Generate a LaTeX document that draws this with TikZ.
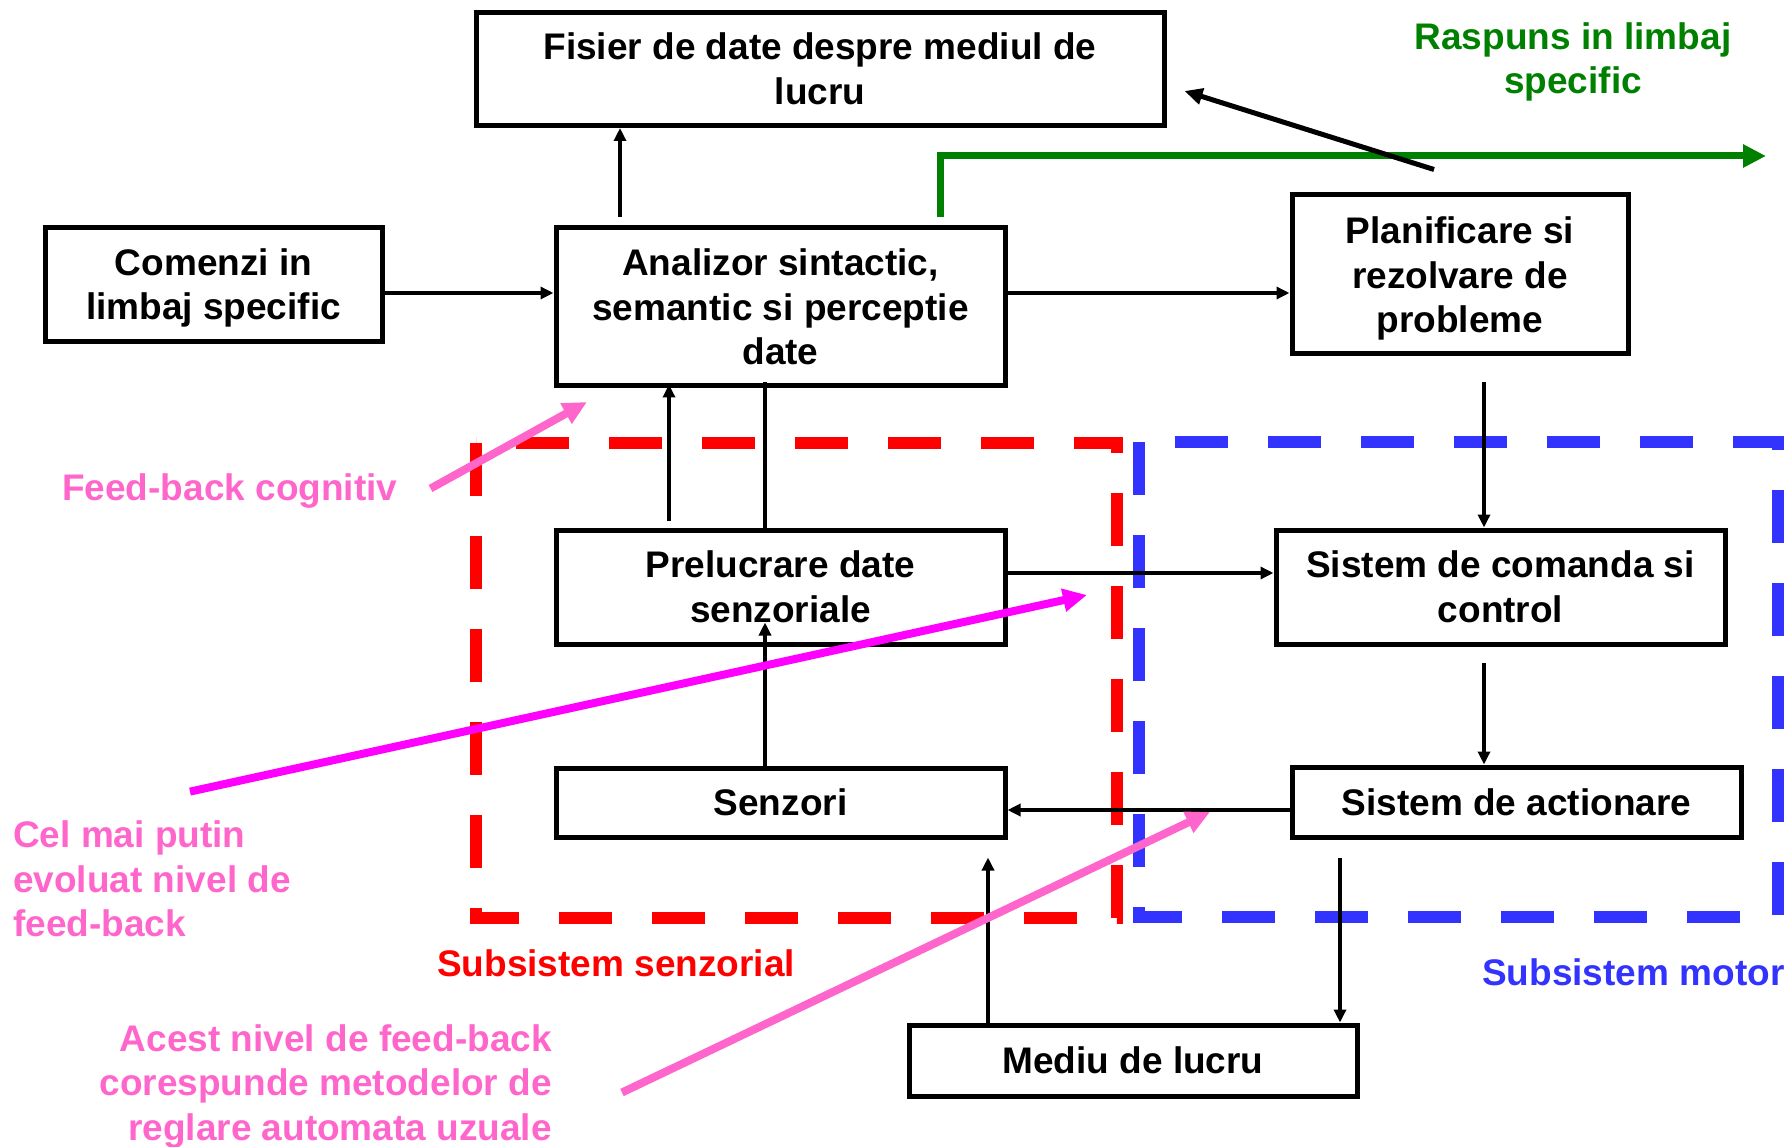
\documentclass[tikz,border=0pt]{standalone}
\usepackage{fontspec}
\setmainfont{Liberation Sans}
\usetikzlibrary{arrows.meta,calc}

\definecolor{fbpink}{RGB}{255,102,204}
\definecolor{fbmag}{RGB}{255,0,255}
\definecolor{ssred}{RGB}{255,0,0}
\definecolor{ssblue}{RGB}{51,51,255}
\definecolor{rgreen}{RGB}{0,128,0}

\tikzset{
  txt/.style={font=\bfseries\fontsize{37}{44.6}\selectfont},
  box/.style={txt, draw, line width=5pt, fill=white, inner sep=0pt, align=center},
  lbl/.style={txt, inner sep=0pt},
  conn/.style={line width=3.8pt, -{Triangle[length=13pt,width=12pt]}},
  plainline/.style={line width=3.8pt},
  zone/.style={line width=12pt, dash pattern=on 53pt off 40pt},
  note/.style={line width=8pt, -{Triangle[length=24pt,width=22pt]}},
}

\begin{document}
\begin{tikzpicture}[x=1pt,y=-1pt]
\useasboundingbox (0,0) rectangle (1791,1147);

% subsystem frames
\draw[zone, ssred]  (476,443) rectangle (1117,918);
\draw[zone, ssblue] (1139,442) rectangle (1778,917);

% blocks
\node[box, minimum width=688pt, minimum height=113pt] (fis) at (820,69)
  {Fisier de date despre mediul de\\lucru};
\node[box, minimum width=337pt, minimum height=114pt] (com) at (213.5,285)
  {\rule{0pt}{33pt}Comenzi in\\limbaj specific};
\node[box, minimum width=449pt, minimum height=158pt] (ana) at (780.5,307)
  {Analizor sintactic,\\semantic si perceptie\\date};
\node[box, minimum width=336pt, minimum height=159pt] (plan) at (1460,274.5)
  {\rule{0pt}{35pt}Planificare si\\rezolvare de\\probleme};
\node[box, minimum width=449pt, minimum height=114pt] (prel) at (780.5,587)
  {Prelucrare date\\senzoriale};
\node[box, minimum width=449pt, minimum height=114pt] (cmd) at (1500.5,587)
  {Sistem de comanda si\\control};
\node[box, minimum width=449pt, minimum height=69pt] (sen) at (780.5,802.5)
  {Senzori};
\node[box, minimum width=449pt, minimum height=70pt] (act) at (1516.5,802)
  {Sistem de actionare};
\node[box, minimum width=448pt, minimum height=71pt] (med) at (1133,1060.5)
  {Mediu de lucru};

% response output
\coordinate (out) at (1766,156);
\draw[rgreen, line width=7pt, -{Triangle[length=23pt,width=22pt]}]
  ($(ana.north -| 940,0)+(0,-8)$) |- (out);

% connectors
\draw[conn] (com.east |- 0,293) -- (ana.west |- 0,293);
\draw[conn] ($(ana.north -| 620,0)+(0,-8)$) -- (fis.south -| 620,0);
\draw[conn] (ana.east |- 0,293) -- (plan.west |- 0,293);
\draw[line width=5pt, -{Triangle[length=18pt,width=16pt]}]
  ($(plan.north)+(-26,-23)$) -- ($(fis.east)+(18,22)$);
\draw[conn] ($(plan.south -| 1484,0)+(0,26)$) -- (cmd.north -| 1484,0);
\draw[conn] ($(cmd.south -| 1484,0)+(0,16)$) -- (act.north -| 1484,0);
\draw[conn] (act.west |- 0,810) -- (sen.east |- 0,810);
\draw[conn] (med.north -| 988,0) -- ($(sen.south -| 988,0)+(0,18)$);
\draw[conn] ($(act.south -| 1340,0)+(0,18)$) -- (med.north -| 1340,0);
\draw[conn] (sen.north -| 765,0) -- ($(prel.south -| 765,0)+(0,-24)$);
\draw[conn] ($(prel.north -| 669,0)+(0,-7)$) -- ($(ana.south -| 669,0)+(0,-4)$);
\draw[plainline] (prel.north -| 765,0) -- ($(ana.south -| 765,0)+(0,-6)$);
\draw[conn] (prel.east |- 0,573) -- (cmd.west |- 0,573);

% labels
\node[lbl, text=rgreen, align=center] (resp) at (1573,62) {Raspuns in limbaj\\specific};
\node[lbl, text=fbpink, anchor=west] (fbc) at (62,491.5) {Feed-back cognitiv};
\node[lbl, text=fbpink, align=left, anchor=west] (cel) at (13,879)
  {Cel mai putin\\evoluat nivel de\\feed-back};
\node[lbl, text=ssred] (ssen) at (616,963) {Subsistem senzorial};
\node[lbl, text=ssblue, anchor=west] (smot) at (1482,972) {Subsistem motor};
\node[lbl, text=fbpink, align=right, anchor=east] (acest) at (552,1086.5)
  {Acest nivel de feed-back\\corespunde metodelor de\\reglare automata uzuale};

% feedback level pointers
\draw[note, fbpink] ($(fbc.east)+(33,-3)$) -- (587,402);
\draw[note, fbmag] ($(cel.north west)+(177,-29)$) -- (1087,595);
\draw[note, fbpink] ($(acest.east)+(70,6)$) -- (1210,812);
\end{tikzpicture}
\end{document}
